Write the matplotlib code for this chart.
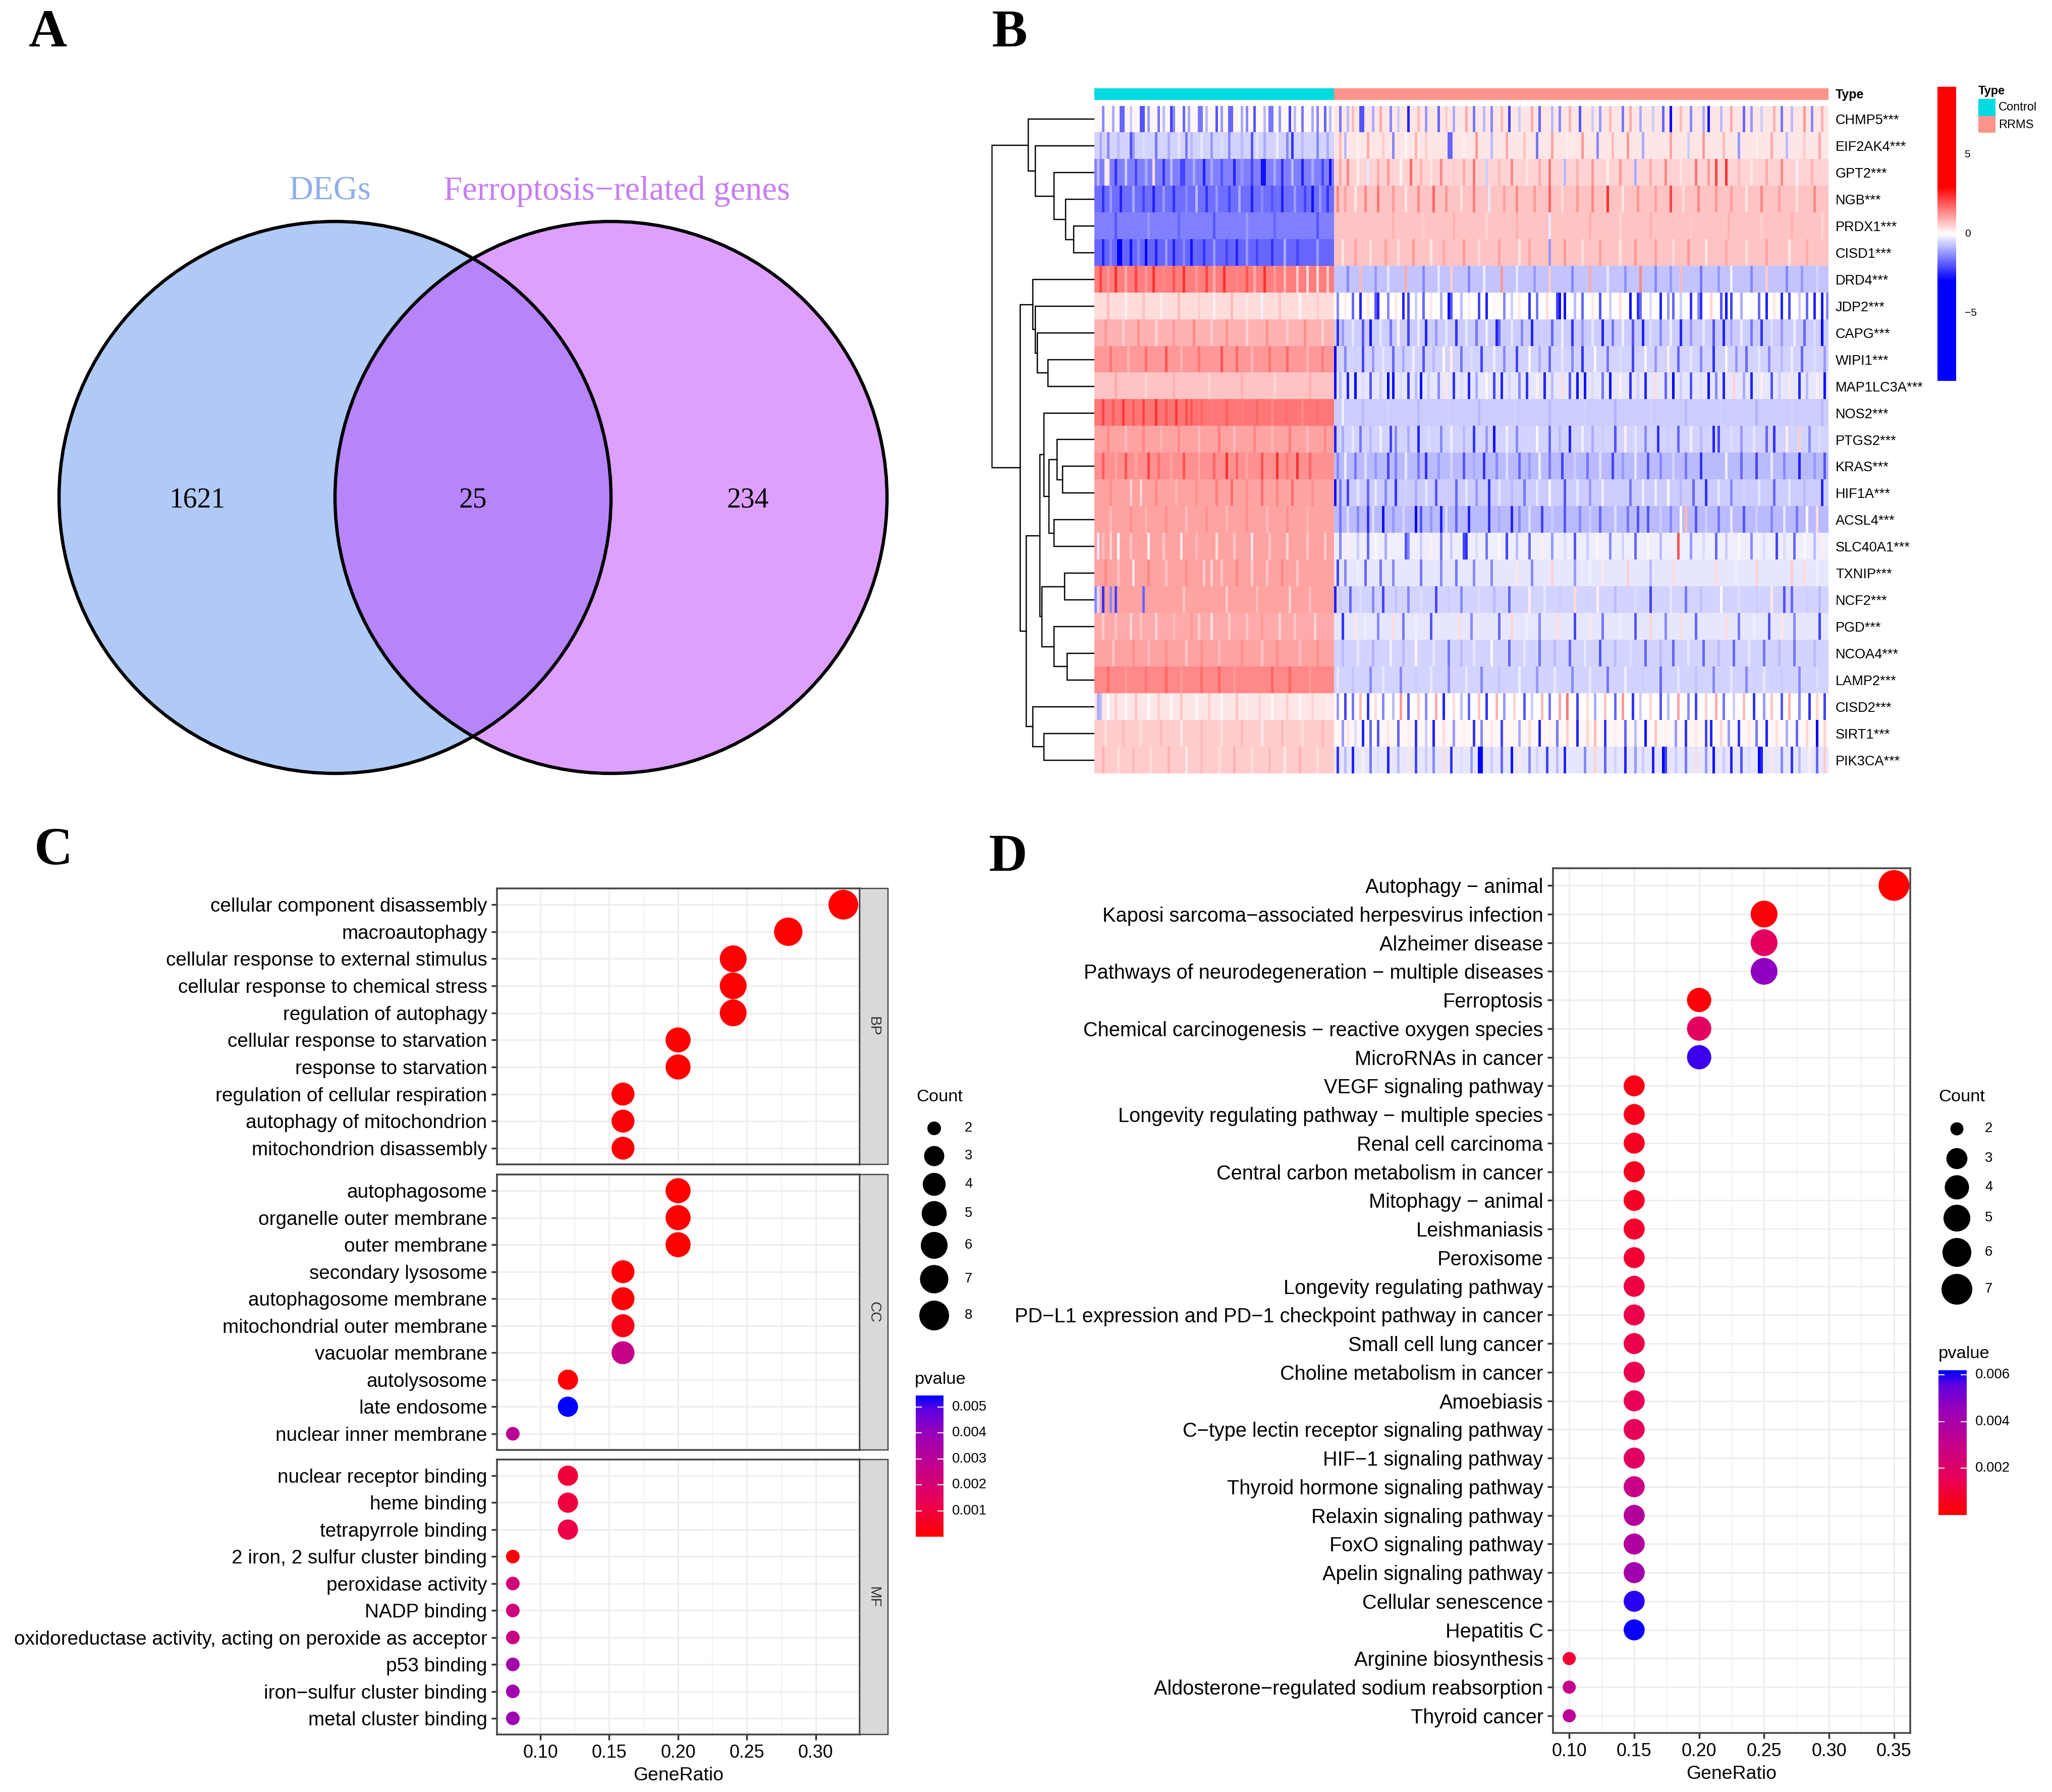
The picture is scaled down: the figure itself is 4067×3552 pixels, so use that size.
import matplotlib
matplotlib.use("Agg")
import matplotlib.pyplot as plt
from matplotlib.colors import LinearSegmentedColormap, ListedColormap
from matplotlib.patches import Circle, Rectangle
import numpy as np

plt.rcParams['font.family'] = ['Liberation Sans', 'DejaVu Sans']

W = 4067
H = 3552
SERIF = 'Liberation Serif'

# ---- panel A
venn_names = ['DEGs', 'Ferroptosis\u2212related genes']
venn_counts = [1621, 25, 234]

# ---- panel B, tenths of a z score
# 95 control + 196 RRMS columns: background level of each group, then the stripes seen on it
genes = ['CHMP5', 'EIF2AK4', 'GPT2', 'NGB', 'PRDX1', 'CISD1', 'DRD4', 'JDP2', 'CAPG', 'WIPI1',
         'MAP1LC3A', 'NOS2', 'PTGS2', 'KRAS', 'HIF1A', 'ACSL4', 'SLC40A1', 'TXNIP', 'NCF2',
         'PGD', 'NCOA4', 'LAMP2', 'CISD2', 'SIRT1', 'PIK3CA']
n_control = 95
n_rrms = 196
base_control = [1, -5, -15, -17, -15, -18, 15, 4, 9, 12, 7, 16, 11, 13, 11, 11, 11, 11, 11, 10, 11, 14, 3, 6, 6]
base_rrms = [3, 3, 5, 7, 7, 7, -7, 0, -6, -5, -3, -6, -5, -8, -6, -8, -2, -3, -5, -3, -5, -5, 0, 1, -3]
CHMP5 = {3:-14,7:-10,10:-18,11:-18,14:-6,18:-20,19:-20,21:-12,25:-16,27:-8,30:-22,31:-14,35:-18,37:-10,41:-16,42:-16,44:-8,48:-20,50:-12,53:-18,54:-18,58:-10,60:-14,63:-20,67:-8,69:-16,70:-16,73:-12,77:-22,79:-8,82:-16,86:-10,88:-14,91:-18,93:-8,
         97:-16,100:-8,102:8,105:-20,106:-20,110:-10,113:10,117:-14,120:-6,124:-26,128:8,131:-12,136:-18,139:6,142:-10,147:10,150:-16,154:-8,157:-14,161:8,164:-22,168:-6,173:10,176:-18,181:-8,184:-14,188:9,192:-20,197:-6,200:-12,204:8,209:-16,212:10,216:-10,221:-6,225:-18,228:-30,232:8,236:-14,241:-10,243:-28,248:-8,252:10,257:-18,260:-12,264:-6,269:9,272:-16,276:-8,281:12,284:-14,288:9}
EIF2AK4 = {2:-10,5:-14,9:-8,14:-20,15:-12,19:-4,24:-16,29:-10,33:-3,36:-16,38:-8,42:-3,46:-12,50:-4,53:-14,58:-8,62:-20,64:-3,67:-10,72:-2,76:-14,78:-24,82:-8,88:-14,92:-10,
           97:8,99:-8,104:2,108:10,114:6,118:-14,123:1,127:9,131:6,140:-18,141:-18,146:2,151:12,157:-8,163:10,170:7,175:-16,181:11,187:2,193:12,199:-14,205:8,211:12,217:-10,222:3,228:11,235:-6,241:12,249:8,255:-12,262:2,268:10,274:-8,281:6,287:10}
GPT2 = {1:-8,4:2,5:3,8:-24,12:-6,16:-22,20:-10,23:4,27:-24,30:-8,34:-22,35:-22,39:-10,43:-26,46:-10,50:-20,55:-26,58:-12,62:-22,66:-28,67:-28,71:-10,74:-24,78:-8,82:-26,86:-10,90:-22,93:-28,
        97:10,100:14,104:2,108:-3,112:10,116:12,121:1,125:18,129:9,133:3,137:14,142:6,146:10,150:16,155:-6,160:8,165:14,171:3,176:10,180:16,186:-8,191:9,197:12,203:2,208:12,214:-10,220:10,226:14,232:3,238:16,243:12,246:22,250:24,255:8,260:3,266:10,272:14,278:-2,284:9}
NGB = {3:-24,6:-12,10:-26,15:-10,19:-22,23:-26,27:-12,31:-24,36:-14,40:-8,44:-24,48:-12,53:-22,57:-10,62:-26,66:-14,70:-20,74:-26,79:-12,83:-22,86:-28,89:-12,92:-24,
       96:14,99:11,103:3,107:14,112:16,118:12,123:3,128:14,134:18,139:12,145:4,150:15,156:-3,162:11,167:14,174:12,180:18,185:4,191:12,197:14,203:24,209:3,215:12,222:11,228:22,233:4,239:14,246:12,252:11,258:3,264:14,271:11,278:4,285:14}
PRDX1 = {8:-20,21:-12,33:-18,47:-20,60:-12,71:-18,88:-20,118:9,130:6,142:9,155:5,167:9,180:-3,196:9,208:5,220:9,236:6,251:9,264:6,276:9,288:5}
CISD1 = {3:-26,6:-14,9:-30,10:-30,14:-28,17:-14,20:-30,24:-26,28:-12,31:-26,35:-14,38:-28,43:-24,47:-12,52:-22,56:-26,60:-12,64:-22,70:-24,75:-10,80:-22,88:-12,
         98:3,103:11,109:4,115:11,120:4,126:12,133:3,138:10,146:12,152:4,160:11,168:3,172:11,180:-12,186:12,193:4,200:11,208:3,214:12,222:11,229:4,235:12,242:3,250:10,258:4,266:11,275:3,282:10}
DRD4 = {2:22,5:12,8:24,12:10,16:22,20:12,23:24,27:14,31:20,35:24,40:12,44:22,47:10,51:24,56:14,60:20,63:10,67:24,71:12,75:8,80:6,84:4,88:4,92:6,
        100:-14,105:8,111:-12,116:-3,123:10,130:-14,136:-3,141:6,148:-14,154:-2,161:12,167:-3,174:-12,180:6,189:-14,196:10,203:-3,210:-13,216:14,222:-14,228:-12,232:8,240:-16,247:-12,252:-2,260:-14,266:6,274:-14,280:-12,286:-5}
JDP2 = {5:8,12:2,19:7,26:2,33:8,41:6,47:2,54:8,60:3,66:-2,73:7,81:1,88:6,
        96:-14,99:2,102:-18,105:-26,108:3,111:-20,112:-26,116:-14,119:3,122:-26,124:-22,127:-6,130:-18,133:3,137:-10,140:-28,141:-20,145:-8,148:2,152:-22,155:-26,158:1,162:-14,165:-6,168:3,172:-24,175:-16,179:4,183:-22,184:-28,186:-28,190:-8,193:-18,197:3,200:-20,204:-6,208:4,212:-28,215:-24,216:-18,220:-4,224:-26,227:-12,229:-18,232:-6,236:-24,239:-14,240:-24,244:5,248:-20,250:-28,252:-22,256:-10,260:1,263:-18,266:-26,269:3,272:-26,275:-22,279:-6,282:-18,285:-26,288:-28,290:-14}
CAPG = {4:12,11:6,17:13,24:5,31:12,39:14,46:6,52:13,60:5,68:13,76:6,83:13,90:5,
        96:-24,98:-12,102:-3,106:-20,109:-28,113:-3,117:-16,120:1,124:-22,128:-2,131:-26,135:-12,139:-3,143:-24,147:-3,151:-16,155:-2,159:-26,160:-18,165:-3,169:-14,173:-26,177:-5,181:-18,185:-2,189:-24,193:-12,197:-3,201:-26,205:-16,209:-2,213:-20,217:-26,220:-4,224:-14,228:-2,232:-26,236:-12,241:-3,245:-20,249:-26,252:-10,256:-2,260:-16,264:-24,268:-4,272:-12,277:-2,281:-18,285:-4,288:-30}
WIPI1 = {6:16,13:9,20:17,28:20,34:9,41:16,50:20,56:18,62:9,69:16,76:18,84:9,90:15,
         95:-30,99:-14,103:-6,106:-22,110:-12,114:-3,118:-18,122:-10,126:-2,130:-20,134:-8,138:1,141:2,145:-16,149:-4,153:-22,158:-2,162:-14,167:-22,172:1,176:-10,180:-18,185:-3,189:-14,193:-24,198:1,203:-16,208:-4,213:-22,218:1,222:-12,227:2,231:-18,236:-3,240:-14,245:-24,250:1,254:-12,258:-18,263:-3,267:-14,272:-8,276:-2,280:-18,285:-4,289:-12}
MAP1LC3A = {8:10,20:5,31:9,45:5,58:9,71:5,85:9,
            95:-28,97:-8,100:-26,103:-30,106:-4,109:-20,113:-6,116:-30,118:-28,121:-4,124:-24,127:-8,129:-30,132:-6,136:-14,139:3,142:-24,145:-4,148:-26,151:-10,155:1,158:-22,161:-26,164:-5,168:-14,171:-24,175:2,178:-26,181:-8,185:4,188:-20,191:-28,194:-28,197:-4,201:-16,204:-28,208:2,212:-24,215:-5,218:-26,222:4,226:-18,229:-30,232:-6,236:-20,240:-4,243:-28,246:-14,249:-26,253:5,257:-10,260:-26,264:2,268:-20,271:-6,275:3,279:-26,282:-8,286:2,289:-28}
NOS2 = {3:22,7:19,11:23,15:19,19:22,24:24,28:20,32:23,36:21,38:20,40:17,42:18,46:15,52:19,58:15,64:18,70:14,76:17,82:14,88:17,
        98:-2,106:-8,116:-5,128:-8,140:-5,152:-8,166:-5,180:-8,194:-5,206:-9,220:-5,234:-8,248:-5,262:-9,276:-5,288:-8}
PTGS2 = {5:14,12:8,19:14,26:9,33:14,41:8,49:15,55:8,63:14,70:9,77:15,84:8,91:14,
         95:-26,98:-10,102:-3,105:-16,109:-8,113:-2,117:-22,119:-14,124:-10,128:-26,132:-4,137:-14,141:-2,146:-8,150:-24,155:-12,158:-28,163:-2,167:-14,171:-5,175:1,180:-18,184:-8,188:-26,193:-2,197:-10,201:-6,206:-20,210:2,214:-3,218:-14,223:-24,227:-6,231:-18,236:-2,240:-8,245:-26,247:-22,252:-4,256:-12,261:-3,266:-18,269:-24,274:2,279:6,283:-14,287:-4}
KRAS = {3:19,8:11,12:20,16:11,21:22,25:17,30:11,35:20,41:11,47:18,52:24,56:18,60:11,66:20,72:24,76:16,80:24,85:18,90:13,
        96:-14,99:-2,103:-16,107:-4,111:-12,116:-22,119:-15,123:-3,128:-16,131:-24,136:-12,141:-5,146:-20,150:-10,154:-24,159:-14,163:-4,168:-18,172:-12,176:-2,180:-16,185:-22,190:-6,195:-16,200:-4,205:-22,209:-12,214:-3,219:-20,224:-14,229:-5,234:-16,240:-24,245:-8,250:-2,256:-18,262:-22,268:-3,273:-14,279:-26,285:-12,289:-20}
HIF1A = {6:13,14:6,18:5,24:14,32:9,40:13,48:15,54:17,60:13,66:17,72:14,78:17,86:13,
         95:-28,97:-16,100:-22,104:-3,108:-18,111:-3,115:-14,119:-24,123:-5,127:-10,131:-3,135:-20,139:-6,143:-18,147:-3,151:-12,156:-24,160:-3,165:-8,170:-16,175:-3,180:-1,186:-20,191:-3,196:-12,201:-2,206:-6,212:-16,217:-2,222:-2,227:1,232:-8,237:-18,242:-24,247:-3,252:-14,257:-5,263:-3,269:-18,275:-3,281:-8,288:-26}
ACSL4 = {6:8,14:13,20:9,28:13,36:8,44:13,52:9,60:13,68:8,76:13,84:9,
         97:-16,100:-4,104:-14,108:-24,110:-4,114:-28,118:-12,122:-5,127:-30,129:-20,133:-12,137:-26,139:-4,143:-18,148:-26,152:-8,156:-24,160:-10,165:-26,168:-14,172:-4,177:-22,181:-6,186:-20,192:-14,196:-6,200:-18,206:-4,211:-16,215:-20,219:-20,224:-6,228:-14,232:1,234:8,238:-20,242:-6,247:-16,252:-3,257:-20,262:-6,268:-14,273:-3,278:-16,282:1,286:4}
SLC40A1 = {1:-3,3:8,6:5,9:0,14:7,21:2,27:7,34:3,40:8,48:4,55:7,62:3,69:7,76:5,84:7,91:6,
           97:-14,100:2,104:-6,108:-18,111:1,115:-10,118:-2,123:-20,124:-14,129:-6,133:2,137:-16,141:-6,146:-22,147:-24,151:-4,155:-16,160:1,163:-22,167:-8,172:-18,177:2,181:-12,186:-4,190:-20,195:-6,199:1,204:-14,209:-5,214:-18,219:1,224:-8,231:20,236:-12,241:-4,246:-18,250:-6,255:1,260:-14,265:-4,270:-22,273:-4,277:-18,281:1,285:-8,288:2}
TXNIP = {4:14,9:7,15:3,21:14,28:7,36:13,43:6,46:5,50:7,56:14,62:6,68:7,74:14,80:7,
         96:-22,99:-14,104:-2,107:-18,113:-16,118:-14,124:-3,129:-16,137:-14,143:-16,150:-14,157:-14,167:3,173:-14,181:5,190:-12,196:-2,201:3,211:5,220:-8,229:4,238:-3,246:4,254:-2,262:5,270:-3,276:6,281:4,286:-2}
NCF2 = {0:-14,1:-4,3:-24,6:-14,8:-22,19:-18,35:7,52:6,64:8,77:5,85:8,
        95:-26,97:-6,101:-18,105:-4,110:-14,114:-22,119:-7,124:-14,129:-4,135:-22,140:-6,145:-14,152:-4,158:-8,164:-18,172:2,178:-3,184:-6,190:4,199:2,206:-8,214:-4,220:-22,228:-3,234:-16,240:-7,248:1,255:-4,262:-6,268:3,273:-20,276:-18,282:-6,287:-8}
PGD = {3:6,8:7,14:5,18:7,24:5,31:8,38:12,41:6,46:4,53:6,60:7,66:12,73:5,79:7,87:5,
       98:-24,103:3,107:-2,112:-14,118:4,122:-16,127:-2,133:-20,139:-3,144:4,149:-14,155:-3,160:-18,165:5,171:-2,176:-14,183:4,190:-22,196:3,201:-16,208:-2,214:-20,220:5,226:-14,232:4,238:-18,244:-3,250:4,255:-16,261:-2,267:-20,272:3,277:-14,283:-3,287:-22}
NCOA4 = {7:7,15:13,21:8,28:13,36:7,42:13,49:8,58:13,66:7,72:13,81:8,88:13,
         98:-8,104:-3,110:-9,117:-2,122:-8,127:1,134:-3,140:-16,145:-8,150:-3,157:1,164:-18,170:-3,176:-16,182:-8,188:-18,194:-3,200:-20,206:-8,212:-4,218:-18,224:-8,229:-18,235:-3,241:-18,247:-8,253:-18,259:-3,265:-16,271:-8,277:-16,285:-8}
LAMP2 = {5:17,12:12,20:16,28:18,34:12,42:17,49:18,55:12,62:14,70:18,77:18,85:12,
         96:-3,102:-7,109:-14,114:-3,121:-14,127:-6,133:-3,140:-14,147:-3,153:-14,160:-7,168:-2,175:-12,182:-3,189:-14,196:-3,203:-16,210:-2,217:-6,224:-18,231:-3,238:-7,245:-14,252:-3,258:-14,265:-3,272:-6,279:-14,286:-4}
CISD2 = {1:-10,2:-8,5:0,8:6,12:1,16:7,21:0,25:6,30:1,34:7,40:1,45:6,50:1,56:7,60:2,65:5,70:1,76:6,81:1,86:5,92:2,
         96:-12,99:-22,102:-16,105:8,108:-24,111:4,114:-14,118:-8,121:12,124:-20,128:6,131:-14,135:10,138:-26,142:4,145:-8,148:-18,152:7,155:-24,159:9,162:-12,166:5,170:-20,173:-6,177:8,180:-16,184:10,187:16,191:-22,195:4,198:-10,202:7,206:-18,209:12,213:-24,216:-6,220:5,224:-20,227:-8,231:11,235:-14,238:-22,242:6,246:10,249:-16,253:-6,257:8,261:-24,265:-12,268:7,272:-20,275:9,279:-14,283:-24,286:5,289:-22}
SIRT1 = {4:4,11:8,18:4,26:8,34:3,42:8,50:4,58:8,66:3,74:8,82:4,90:8,
         98:-12,100:3,103:-4,106:-26,109:-18,112:-20,116:3,120:-18,124:2,127:-24,131:-6,134:-26,138:4,142:-12,146:2,150:-24,153:-14,157:3,161:-22,165:1,168:-10,172:4,176:-26,180:2,183:-16,187:6,191:-26,195:5,198:8,202:-24,206:2,210:-18,214:-8,218:-28,222:7,226:2,230:-12,234:-24,238:3,242:-22,244:-26,248:5,251:-12,255:-24,259:3,262:-16,266:-26,270:4,274:-10,278:-18,282:5,286:-30,289:5}
PIK3CA = {3:9,9:4,15:8,22:4,29:9,36:3,42:8,49:4,55:9,62:4,69:8,75:3,81:9,88:4,
          96:-24,99:-8,102:-26,106:2,109:-16,112:-4,116:-26,120:-8,124:3,127:-22,131:-6,134:-14,138:4,141:-24,145:-4,149:-12,152:-30,153:-30,157:-6,161:-18,165:-28,168:3,172:-14,175:-5,179:-22,183:-8,186:-26,190:-3,194:-14,198:5,202:-18,206:-5,210:-26,214:-12,217:-6,221:-26,225:-30,226:-22,230:-6,234:-16,238:4,242:-12,245:-28,249:-6,252:-26,256:-20,259:-4,263:-30,264:-26,268:3,272:-14,276:-24,279:-8,283:2,286:-18,289:6}
heat_stripes = [CHMP5, EIF2AK4, GPT2, NGB, PRDX1, CISD1, DRD4, JDP2, CAPG, WIPI1, MAP1LC3A, NOS2, PTGS2,
                KRAS, HIF1A, ACSL4, SLC40A1, TXNIP, NCF2, PGD, NCOA4, LAMP2, CISD2, SIRT1, PIK3CA]
heat_range = 9.3
heat_ticks = [-5, 0, 5]
# (height, upper branch, lower branch), a plain int is a row index
dendro = (150, (97, 0, (87, 1, (59, 2, (42, 3, (30, 4, 5))))),
          (109, (90, 6, (87, 7, (84, 8, (68, 9, 10)))),
           (100, (80, (74, 11, (67, (55, 12, (47, 13, 14)), (59, 15, 16))),
                  (77, (44, 17, 18), (59, 19, (40, 20, 21)))),
            (90, 22, (74, 23, 24)))))

# ---- panel C
c_bp = ['cellular component disassembly', 'macroautophagy', 'cellular response to external stimulus',
        'cellular response to chemical stress', 'regulation of autophagy', 'cellular response to starvation',
        'response to starvation', 'regulation of cellular respiration', 'autophagy of mitochondrion',
        'mitochondrion disassembly']
c_bp_ratio = [0.32, 0.28, 0.24, 0.24, 0.24, 0.20, 0.20, 0.16, 0.16, 0.16]
c_bp_p = [0.00001, 0.00001, 0.00002, 0.00002, 0.00003, 0.00003, 0.00003, 0.00005, 0.00005, 0.00005]
c_cc = ['autophagosome', 'organelle outer membrane', 'outer membrane', 'secondary lysosome',
        'autophagosome membrane', 'mitochondrial outer membrane', 'vacuolar membrane', 'autolysosome',
        'late endosome', 'nuclear inner membrane']
c_cc_ratio = [0.20, 0.20, 0.20, 0.16, 0.16, 0.16, 0.16, 0.12, 0.12, 0.08]
c_cc_p = [0.00003, 0.00004, 0.00004, 0.00006, 0.00010, 0.00035, 0.0026, 0.00010, 0.00545, 0.0030]
c_mf = ['nuclear receptor binding', 'heme binding', 'tetrapyrrole binding', '2 iron, 2 sulfur cluster binding',
        'peroxidase activity', 'NADP binding', 'oxidoreductase activity, acting on peroxide as acceptor',
        'p53 binding', 'iron\u2212sulfur cluster binding', 'metal cluster binding']
c_mf_ratio = [0.12, 0.12, 0.12, 0.08, 0.08, 0.08, 0.08, 0.08, 0.08, 0.08]
c_mf_p = [0.0009, 0.0010, 0.0011, 0.0002, 0.0022, 0.0023, 0.0025, 0.0036, 0.0037, 0.0038]
c_total = 25
c_ticks = [0.10, 0.15, 0.20, 0.25, 0.30]
c_count_levels = [2, 3, 4, 5, 6, 7, 8]
c_p_ticks = [0.001, 0.002, 0.003, 0.004, 0.005]

# ---- panel D
d_terms = ['Autophagy \u2212 animal', 'Kaposi sarcoma\u2212associated herpesvirus infection', 'Alzheimer disease',
           'Pathways of neurodegeneration \u2212 multiple diseases', 'Ferroptosis',
           'Chemical carcinogenesis \u2212 reactive oxygen species', 'MicroRNAs in cancer', 'VEGF signaling pathway',
           'Longevity regulating pathway \u2212 multiple species', 'Renal cell carcinoma',
           'Central carbon metabolism in cancer', 'Mitophagy \u2212 animal', 'Leishmaniasis', 'Peroxisome',
           'Longevity regulating pathway', 'PD\u2212L1 expression and PD\u22121 checkpoint pathway in cancer',
           'Small cell lung cancer', 'Choline metabolism in cancer', 'Amoebiasis',
           'C\u2212type lectin receptor signaling pathway', 'HIF\u22121 signaling pathway',
           'Thyroid hormone signaling pathway', 'Relaxin signaling pathway', 'FoxO signaling pathway',
           'Apelin signaling pathway', 'Cellular senescence', 'Hepatitis C', 'Arginine biosynthesis',
           'Aldosterone\u2212regulated sodium reabsorption', 'Thyroid cancer']
d_ratio = [0.35, 0.25, 0.25, 0.25, 0.20, 0.20, 0.20] + [0.15] * 20 + [0.10, 0.10, 0.10]
d_p = [0.00001, 0.00015, 0.0018, 0.0047, 0.00015, 0.0018, 0.0058, 0.0004, 0.0005, 0.0006, 0.0006, 0.0007,
       0.0008, 0.0009, 0.0012, 0.0013, 0.0013, 0.0014, 0.0015, 0.0016, 0.0019, 0.0029, 0.0036, 0.0037,
       0.0042, 0.0059, 0.0061, 0.0009, 0.0031, 0.0034]
d_total = 20
d_ticks = [0.10, 0.15, 0.20, 0.25, 0.30, 0.35]
d_count_levels = [2, 3, 4, 5, 6, 7]
d_p_ticks = [0.002, 0.004, 0.006]

p_cmap = LinearSegmentedColormap.from_list('pv', [(0, '#FF0000'), (0.25, '#E80058'), (0.5, '#C4008C'),
                                                  (0.75, '#9300BC'), (0.9, '#6000E0'), (1, '#0000FF')])
heat_cmap = LinearSegmentedColormap.from_list('hm', ['#0000FF', '#FFFFFF', '#FF0000'])
GRID = '#EDEDED'
BORDER = '#444444'
TXT = 27.5
PT = 0.72


def px_axes(x0, y0, x1, y1):
    return fig.add_axes([x0 / W, 1 - y1 / H, (x1 - x0) / W, (y1 - y0) / H])


def dot_px(count, levels, a, b):
    frac = (np.asarray(count, float) - levels[0]) / (levels[-1] - levels[0])
    return a + b * np.sqrt(frac)


def draw_dots(box, terms, ratio, pvals, total, xlim, ticks, pmax, levels, a, b, fs, show_x=False):
    ax = px_axes(*box)
    y = np.arange(len(terms))
    count = np.round(np.array(ratio) * total)
    d = dot_px(count, levels, a, b) * PT
    ax.set_xlim(*xlim)
    ax.set_ylim(len(terms) - 0.4, -0.6)
    ax.set_xticks(ticks)
    ax.set_xticks(np.array(ticks[:-1]) + 0.025, minor=True)
    ax.set_yticks(y)
    ax.set_yticklabels(terms)
    ax.grid(True, which='major', color=GRID, lw=3 * PT)
    ax.grid(True, which='minor', axis='x', color=GRID, lw=1.5 * PT)
    ax.set_axisbelow(True)
    ax.scatter(ratio, y, s=d ** 2, c=np.array(pvals) / pmax, cmap=p_cmap, vmin=0, vmax=1, linewidths=0, zorder=3)
    ax.tick_params(axis='y', labelsize=fs, length=8, width=2.5, pad=6, color='#333333')
    ax.tick_params(axis='x', which='minor', length=0)
    ax.tick_params(axis='x', which='major', labelsize=TXT * 0.94, length=8 if show_x else 0, width=2.5,
                   pad=6, labelbottom=show_x, color='#333333')
    ax.xaxis.set_major_formatter(plt.FormatStrFormatter('%.2f'))
    for s in ax.spines.values():
        s.set_color(BORDER)
        s.set_linewidth(3.5 * PT)
    return ax


def add_strip(x0, y0, x1, y1, name):
    ov.add_patch(Rectangle((x0, y0), x1 - x0, y1 - y0, fc='#D9D9D9', ec=BORDER, lw=2.5 * PT))
    ov.text((x0 + x1) / 2, (y0 + y1) / 2, name, rotation=-90, ha='center', va='center', fontsize=21, color='#333333')


def draw_tree(node):
    # returns (height, y position) of the node
    if isinstance(node, int):
        return 0, node
    h, up, low = node
    h1, y1 = draw_tree(up)
    h2, y2 = draw_tree(low)
    dax.plot([h1, h, h, h2], [y1, y1, y2, y2], color='black', lw=2.5 * PT, solid_joinstyle='miter')
    return h, (y1 + y2) / 2


def size_legend(x_title, y_title, xdot, xlab, ys, levels, a, b):
    ov.text(x_title, y_title, 'Count', fontsize=TXT * 0.9, ha='left', va='center')
    for lv, yy in zip(levels, ys):
        dpx = dot_px(lv, levels, a, b) * PT
        ov.scatter([xdot], [yy], s=dpx ** 2, color='black', linewidths=0)
        ov.text(xlab, yy, str(lv), fontsize=TXT * 0.72, ha='left', va='center')


def p_legend(x_title, y_title, box, pmax, ticks):
    ov.text(x_title, y_title, 'pvalue', fontsize=TXT * 0.9, ha='left', va='center')
    ax = px_axes(*box)
    ax.imshow(np.linspace(1, 0, 256).reshape(-1, 1), cmap=p_cmap, vmin=0, vmax=1, aspect='auto',
              extent=[0, 1, 0, pmax])
    for t in ticks:
        ax.plot([0, 0.2], [t, t], color='white', lw=2 * PT)
        ax.plot([0.8, 1], [t, t], color='white', lw=2 * PT)
        ax.text(1.3, t, '%.3f' % t, fontsize=TXT * 0.72, ha='left', va='center')
    ax.set_xlim(0, 1)
    ax.set_ylim(0, pmax)
    ax.axis('off')


fig = plt.figure(figsize=(W / 100, H / 100), dpi=100)
ov = fig.add_axes([0, 0, 1, 1], zorder=5)
ov.set_xlim(0, W)
ov.set_ylim(H, 0)
ov.axis('off')
ov.patch.set_alpha(0)

# panel letters
for name, x, y in [('A', 95, 66), ('B', 2000, 66), ('C', 106, 1687), ('D', 1997, 1700)]:
    ov.text(x, y, name, family=SERIF, weight='bold', fontsize=76, ha='center', va='center')

# venn
left = Circle((664, 986), 547, fc='#B0C9F5', ec='none')
right = Circle((1211, 986), 547, fc='#DDA0FF', ec='none')
ov.add_patch(left)
ov.add_patch(right)
both = Circle((1211, 986), 547, fc='#B685FA', ec='none')
ov.add_patch(both)
both.set_clip_path(Circle((664, 986), 547, transform=ov.transData))
ov.add_patch(Circle((664, 986), 547, fc='none', ec='black', lw=6.5 * PT))
ov.add_patch(Circle((1211, 986), 547, fc='none', ec='black', lw=6.5 * PT))
ov.text(654, 379, venn_names[0], family=SERIF, fontsize=48, color='#8FAEEA', ha='center', va='center')
ov.text(1222, 379, venn_names[1], family=SERIF, fontsize=48, color='#C77DF5', ha='center', va='center')
for v, x in zip(venn_counts, [391, 937, 1482]):
    ov.text(x, 991, str(v), family=SERIF, fontsize=40, ha='center', va='center')

# heatmap
heat = []
for i, g in enumerate(genes):
    row = [base_control[i]] * n_control + [base_rrms[i]] * n_rrms
    for col, val in heat_stripes[i].items():
        row[col] = val
    heat.append(row)
heat = np.array(heat) / 10.0

hx0, hx1 = 2169, 3624
hy0, hy1 = 210, 1533
hax = px_axes(hx0, hy0, hx1, hy1)
hax.imshow(heat, cmap=heat_cmap, vmin=-3, vmax=3, aspect='auto', interpolation='nearest')
hax.axis('off')

aax = px_axes(hx0, 175, hx1, 198)
aax.imshow(np.array([[0] * n_control + [1] * n_rrms]), cmap=ListedColormap(['#00DAE0', '#FF9289']), aspect='auto')
aax.axis('off')
ov.text(3638, 188, 'Type', fontsize=18, weight='bold', ha='left', va='center')
row_h = (hy1 - hy0) / len(genes)
for i, g in enumerate(genes):
    ov.text(3638, hy0 + row_h * (i + 0.5) + 3, g + '***', fontsize=19.5, ha='left', va='center')

dax = px_axes(1965, hy0, hx0, hy1)
draw_tree(dendro)
dax.set_xlim((hx0 - 1965) * 0.7407, 0)
dax.set_ylim(len(genes) - 0.5, -0.5)
dax.axis('off')

cax = px_axes(3840, 172, 3877, 755)
cax.imshow(np.linspace(heat_range, -heat_range, 256).reshape(-1, 1), cmap=heat_cmap, vmin=-3, vmax=3, aspect='auto',
           extent=[0, 1, -heat_range, heat_range])
cax.set_xlim(0, 1)
cax.set_ylim(-heat_range, heat_range)
cax.axis('off')
for t in heat_ticks:
    cax.text(1.45, t, str(t).replace('-', '\u2212'), fontsize=15, ha='left', va='center')
ov.text(3921, 181, 'Type', fontsize=17, weight='bold', ha='left', va='center')
ov.add_patch(Rectangle((3921, 196), 34, 34, fc='#00DAE0', ec='none'))
ov.add_patch(Rectangle((3921, 230), 34, 33, fc='#FF9289', ec='none'))
ov.text(3961, 213, 'Control', fontsize=17, ha='left', va='center')
ov.text(3961, 248, 'RRMS', fontsize=17, ha='left', va='center')

# panel C
c_xlim = (0.0685, 0.3319)
c_pmax = 0.00545
c_fs = 27.9
draw_dots((985, 1761, 1704, 2308), c_bp, c_bp_ratio, c_bp_p, c_total, c_xlim, c_ticks, c_pmax, c_count_levels, 27, 32, c_fs)
draw_dots((985, 2328, 1704, 2874), c_cc, c_cc_ratio, c_cc_p, c_total, c_xlim, c_ticks, c_pmax, c_count_levels, 27, 32, c_fs)
ax_mf = draw_dots((985, 2893, 1704, 3438), c_mf, c_mf_ratio, c_mf_p, c_total, c_xlim, c_ticks, c_pmax, c_count_levels,
                  27, 32, c_fs, show_x=True)
ax_mf.set_xlabel('GeneRatio', fontsize=TXT * 0.98, labelpad=7)
add_strip(1704, 1761, 1760, 2308, 'BP')
add_strip(1704, 2328, 1760, 2874, 'CC')
add_strip(1704, 2893, 1760, 3438, 'MF')
size_legend(1816, 2174, 1851, 1912, [2236, 2291, 2347, 2405, 2468, 2535, 2607], c_count_levels, 27, 32)
p_legend(1813, 2734, (1815, 2766, 1870, 3046), c_pmax, c_p_ticks)

# panel D
d_pmax = 0.00619
ax_d = draw_dots((3078, 1721, 3786, 3435), d_terms, d_ratio, d_p, d_total, (0.0875, 0.3625), d_ticks, d_pmax,
                 d_count_levels, 26, 35, 28.6, show_x=True)
ax_d.set_xlabel('GeneRatio', fontsize=TXT * 0.98, labelpad=7)
size_legend(3842, 2174, 3878, 3934, [2237, 2296, 2353, 2414, 2482, 2555], d_count_levels, 26, 35)
p_legend(3842, 2683, (3842, 2716, 3898, 3003), d_pmax, d_p_ticks)

fig.savefig('out.png', dpi=100)
